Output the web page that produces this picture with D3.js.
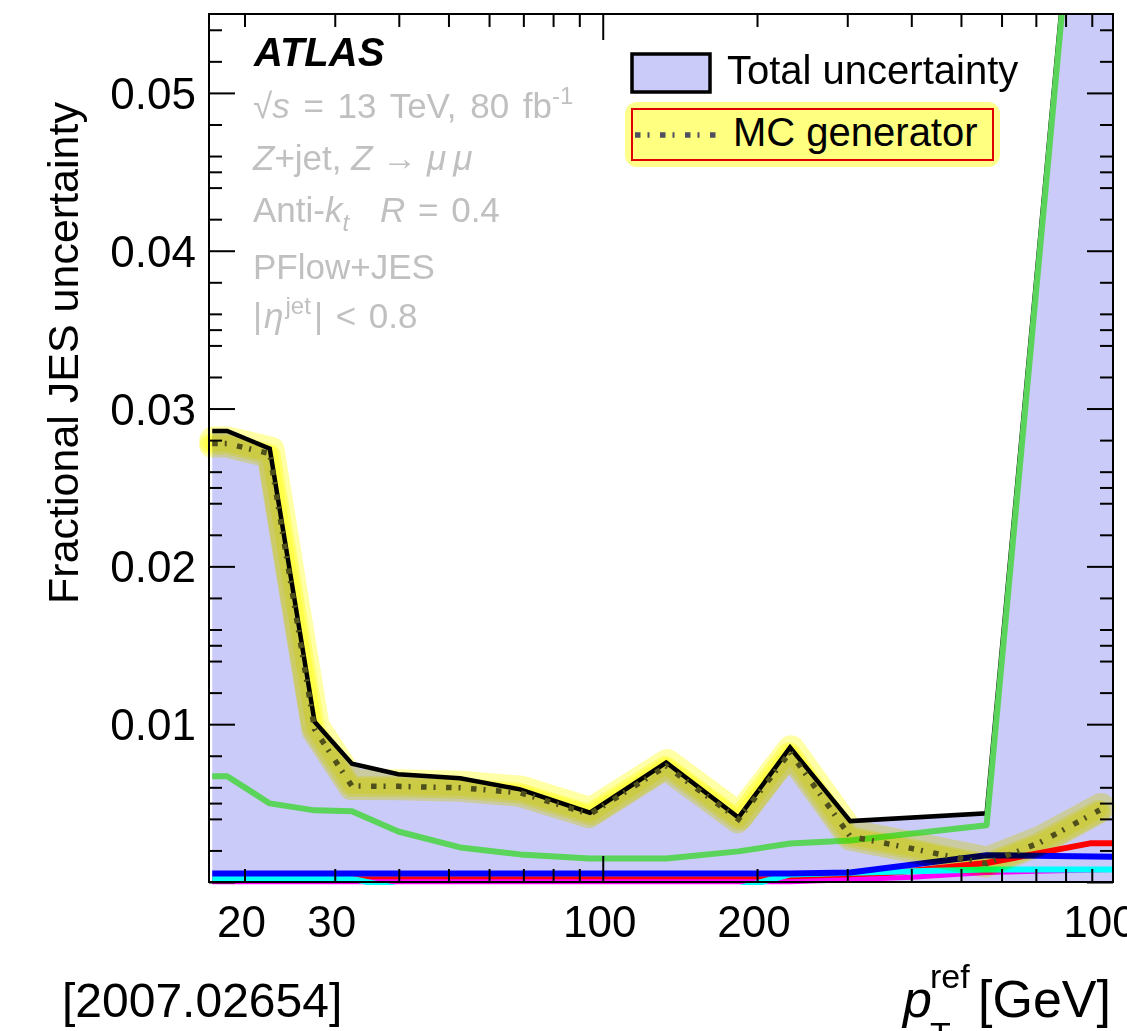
<!DOCTYPE html>
<html>
<head>
<meta charset="utf-8">
<script src="https://cdn.jsdelivr.net/npm/d3@7"></script>
<style>
  body { margin: 0; background: #fff; }
  svg { display: block; }
  text { font-family: "Liberation Sans", Arial, Helvetica, sans-serif; }
</style>
</head>
<body>
<svg id="chart" width="1127" height="1031"></svg>
<script>
'use strict';
// values (pT in GeV, fractional uncertainty)
var ptTotal = [17.3, 18.5, 22.4, 27.4, 32.4, 39.9, 52.7, 69, 94.4, 133, 184, 232, 304, 561, 990];
var totalUnc = [0.02858, 0.02858, 0.02746, 0.01015, 0.0075, 0.00683, 0.00657, 0.00587, 0.00439, 0.00757, 0.00408, 0.00852, 0.00386, 0.00435, 0.0905];

var ptMC = [17.3, 18.5, 22.4, 27.4, 32.4, 39.9, 52.7, 69, 94.4, 133, 184, 232, 304, 400, 476, 561, 713, 933];
var mcGen = [0.02778, 0.02778, 0.02714, 0.00968, 0.00608, 0.00606, 0.00597, 0.00566, 0.00429, 0.00735, 0.00397, 0.00822, 0.00289, 0.00213, 0.00162, 0.00117, 0.0025, 0.00456];

var ptGreen = [17.3, 18.5, 22.4, 27.4, 32.4, 39.9, 52.7, 69, 94.4, 133, 184, 232, 304, 561, 990];
var greenUnc = [0.0067, 0.0067, 0.00498, 0.00454, 0.00448, 0.0032, 0.00219, 0.00175, 0.00149, 0.00149, 0.00194, 0.00244, 0.00263, 0.00359, 0.09];

var ptBlue = [17.3, 232, 304, 561, 990];
var blueUnc = [0.00054, 0.00054, 0.0006, 0.0017, 0.0016];

var ptRed = [17.3, 232, 304, 561, 893, 990];
var redUnc = [0.00018, 0.00018, 0.0003, 0.0012, 0.00245, 0.00245];

var ptCyan = [17.3, 32.4, 39.9, 184, 232, 304, 561, 990];
var cyanUnc = [0.0002, 0.0002, -0.0004, -0.0004, 0.00048, 0.00058, 0.00079, 0.00079];

var ptMagenta = [17.3, 232, 304, 400, 561, 990];
var magentaUnc = [0.00002, 0.00002, 0.00015, 0.0003, 0.0006, 0.0008];

var xTickLabels = [20, 30, 100, 200, 1000];
var xMinorTicks = [20, 30, 40, 50, 60, 70, 80, 90, 200, 300, 400, 500, 600, 700, 800, 900];
var xMajorTicks = [100];
var yMajorTicks = [0, 0.01, 0.02, 0.03, 0.04, 0.05];
var yLabelTicks = [0.01, 0.02, 0.03, 0.04, 0.05];

var svg = d3.select('#chart');
var L = 209, R = 1113, T = 14, B = 882;

var x = d3.scaleLog().domain([17.05, 990]).range([L, R]);
var y = d3.scaleLinear().domain([0, 0.055]).range([B, T]);

// minor y ticks at 0.002 steps plus the 0.005 halves
var yMinorTicks = [];
for (var k = 1; k < 55; k++) {
    var r = k % 10;
    if (r === 2 || r === 4 || r === 5 || r === 6 || r === 8) yMinorTicks.push(k / 1000);
}

function zip(xs, ys) { return xs.map(function(v, i) { return [v, ys[i]]; }); }

svg.append('rect').attr('width', 1127).attr('height', 1031).attr('fill', '#fff');

svg.append('defs').append('clipPath').attr('id', 'plotclip')
    .append('rect').attr('x', L).attr('y', T).attr('width', R - L).attr('height', B - T + 3);

var plot = svg.append('g').attr('clip-path', 'url(#plotclip)');

var line = d3.line().x(function(d) { return x(d[0]); }).y(function(d) { return y(d[1]); });
var area = d3.area().x(function(d) { return x(d[0]); }).y0(y(0)).y1(function(d) { return y(d[1]); });

// total uncertainty band
plot.append('path').datum(zip(ptTotal, totalUnc))
    .attr('d', area).attr('fill', '#cbcbf9');

function drawLine(data, color, w) {
    return plot.append('path').datum(data).attr('d', line)
        .attr('fill', 'none').attr('stroke', color).attr('stroke-width', w)
        .attr('stroke-linejoin', 'round');
}

drawLine(zip(ptRed, redUnc), '#ff0000', 6);
drawLine(zip(ptMagenta, magentaUnc), '#ff00ff', 5);
drawLine(zip(ptCyan, cyanUnc), '#00ffff', 6);
drawLine(zip(ptBlue, blueUnc), '#0000ff', 6);
drawLine(zip(ptTotal, totalUnc), '#000', 4.5).attr('stroke-linejoin', 'miter');
drawLine(zip(ptGreen, greenUnc), '#5ad45a', 6);

plot.append('path').datum(zip(ptMC, mcGen)).attr('d', line)
    .attr('fill', 'none').attr('stroke', '#4f4f60').attr('stroke-width', 5.5)
    .attr('stroke-dasharray', '5.5,7,2,10.5');

// yellow highlighter over the MC generator curve (not clipped)
var glow = [
    { w: 28, dx: 1, dy: -3, o: 0.35 },
    { w: 24, dx: -1, dy: 2, o: 0.35 },
    { w: 16, dx: 0, dy: 0, o: 0.35 }
];
glow.forEach(function(g) {
    svg.append('path').datum(zip(ptMC, mcGen)).attr('d', line)
        .attr('transform', 'translate(' + g.dx + ',' + g.dy + ')')
        .attr('fill', 'none').attr('stroke', '#ffff00').attr('stroke-opacity', g.o)
        .attr('stroke-width', g.w).attr('stroke-linecap', 'round').attr('stroke-linejoin', 'round')
        .style('mix-blend-mode', 'multiply');
});

// axes, ROOT style: ticks on all four sides pointing inward
function styleAxis(sel) {
    sel.select('.domain').remove();
    sel.selectAll('line').attr('stroke', '#000').attr('stroke-width', 2);
}
svg.append('g').attr('transform', 'translate(' + L + ',0)')
    .call(d3.axisLeft(y).tickValues(yMinorTicks).tickSize(-13).tickFormat('')).call(styleAxis);
svg.append('g').attr('transform', 'translate(' + L + ',0)')
    .call(d3.axisLeft(y).tickValues(yMajorTicks).tickSize(-26).tickFormat('')).call(styleAxis);
svg.append('g').attr('transform', 'translate(' + R + ',0)')
    .call(d3.axisRight(y).tickValues(yMinorTicks).tickSize(-13).tickFormat('')).call(styleAxis);
svg.append('g').attr('transform', 'translate(' + R + ',0)')
    .call(d3.axisRight(y).tickValues(yMajorTicks).tickSize(-26).tickFormat('')).call(styleAxis);
svg.append('g').attr('transform', 'translate(0,' + B + ')')
    .call(d3.axisBottom(x).tickValues(xMinorTicks).tickSize(-13).tickFormat('')).call(styleAxis);
svg.append('g').attr('transform', 'translate(0,' + B + ')')
    .call(d3.axisBottom(x).tickValues(xMajorTicks).tickSize(-26).tickFormat('')).call(styleAxis);
svg.append('g').attr('transform', 'translate(0,' + T + ')')
    .call(d3.axisTop(x).tickValues(xMinorTicks).tickSize(-13).tickFormat('')).call(styleAxis);
svg.append('g').attr('transform', 'translate(0,' + T + ')')
    .call(d3.axisTop(x).tickValues(xMajorTicks).tickSize(-26).tickFormat('')).call(styleAxis);

svg.append('rect').attr('x', L).attr('y', T).attr('width', R - L).attr('height', B - T)
    .attr('fill', 'none').attr('stroke', '#000').attr('stroke-width', 2);

// tick labels
svg.selectAll('text.ylab').data(yLabelTicks).enter().append('text')
    .attr('class', 'ylab').attr('x', 196).attr('y', function(d) { return y(d) + 16; })
    .attr('text-anchor', 'end').attr('font-size', 44).text(function(d) { return d.toFixed(2); });
svg.selectAll('text.xlab').data(xTickLabels).enter().append('text')
    .attr('class', 'xlab').attr('x', function(d) { return x(d) - 3; }).attr('y', 937)
    .attr('text-anchor', 'middle').attr('font-size', 44).text(function(d) { return d; });

// axis titles
svg.append('text').attr('transform', 'translate(78,353) rotate(-90)')
    .attr('text-anchor', 'middle').attr('font-size', 43).text('Fractional JES uncertainty');

var xt = svg.append('g');
xt.append('text').attr('x', 903).attr('y', 1017).attr('font-size', 52).attr('font-style', 'italic').text('p');
xt.append('text').attr('x', 930).attr('y', 988).attr('font-size', 34).text('ref');
xt.append('text').attr('x', 930).attr('y', 1046).attr('font-size', 34).text('T');
xt.append('text').attr('x', 978).attr('y', 1017).attr('font-size', 52).text('[GeV]');

svg.append('text').attr('x', 62).attr('y', 1017).attr('font-size', 48).text('[2007.02654]');

// ATLAS label block
svg.append('text').attr('x', 254).attr('y', 66).attr('font-size', 40)
    .attr('font-weight', 'bold').attr('font-style', 'italic').text('ATLAS');

var gray = '#c0c0c0';
var t1 = svg.append('text').attr('x', 253).attr('y', 118).attr('font-size', 35).attr('fill', gray)
    .style('word-spacing', '4px');
t1.append('tspan').text('\u221A');
t1.append('tspan').attr('font-style', 'italic').text('s');
t1.append('tspan').text(' = 13 TeV, 80 fb');
t1.append('tspan').attr('font-size', 24).attr('dy', -14).text('-1');

var t2 = svg.append('text').attr('x', 253).attr('y', 170).attr('font-size', 35).attr('fill', gray);
t2.append('tspan').attr('font-style', 'italic').text('Z');
t2.append('tspan').text('+jet, ');
t2.append('tspan').attr('font-style', 'italic').text('Z');
t2.append('tspan').text(' \u2192 ');
t2.append('tspan').attr('font-style', 'italic').text('\u03BC\u2009\u03BC');

var t3 = svg.append('text').attr('x', 253).attr('y', 222).attr('font-size', 35).attr('fill', gray)
    .style('word-spacing', '3px');
t3.append('tspan').text('Anti-');
t3.append('tspan').attr('font-style', 'italic').text('k');
t3.append('tspan').attr('font-style', 'italic').attr('font-size', 24).attr('dy', 9).text('t');
t3.append('tspan').attr('x', 380).attr('dy', -9).attr('font-style', 'italic').text('R');
t3.append('tspan').text(' = 0.4');

svg.append('text').attr('x', 253).attr('y', 279).attr('font-size', 35).attr('fill', gray).text('PFlow+JES');

var t5 = svg.append('text').attr('x', 253).attr('y', 328).attr('font-size', 35).attr('fill', gray)
    .style('word-spacing', '3px');
t5.append('tspan').text('|');
t5.append('tspan').attr('dx', 2).attr('font-style', 'italic').text('\u03B7');
t5.append('tspan').attr('dx', 2).attr('font-size', 24).attr('dy', -14).text('jet');
t5.append('tspan').attr('dx', 3).attr('dy', 14).text('| < 0.8');

// legend
svg.append('rect').attr('x', 632).attr('y', 54).attr('width', 78).attr('height', 38)
    .attr('fill', '#cbcbf9').attr('stroke', '#000').attr('stroke-width', 3.5);
svg.append('text').attr('x', 727).attr('y', 84).attr('font-size', 40).text('Total uncertainty');

svg.append('rect').attr('x', 625).attr('y', 102).attr('width', 375).attr('height', 65).attr('rx', 12)
    .attr('fill', '#ffff00').attr('fill-opacity', 0.45).style('mix-blend-mode', 'multiply');
svg.append('rect').attr('x', 632).attr('y', 109).attr('width', 361).attr('height', 51)
    .attr('fill', '#ffff80').attr('stroke', '#e00000').attr('stroke-width', 2);
svg.append('line').attr('x1', 635).attr('x2', 718).attr('y1', 135).attr('y2', 135)
    .attr('stroke', '#4f4f60').attr('stroke-width', 5.5).attr('stroke-dasharray', '5.5,7,2,10.5');
svg.append('text').attr('x', 733).attr('y', 146).attr('font-size', 40).text('MC generator');
</script>
</body>
</html>
